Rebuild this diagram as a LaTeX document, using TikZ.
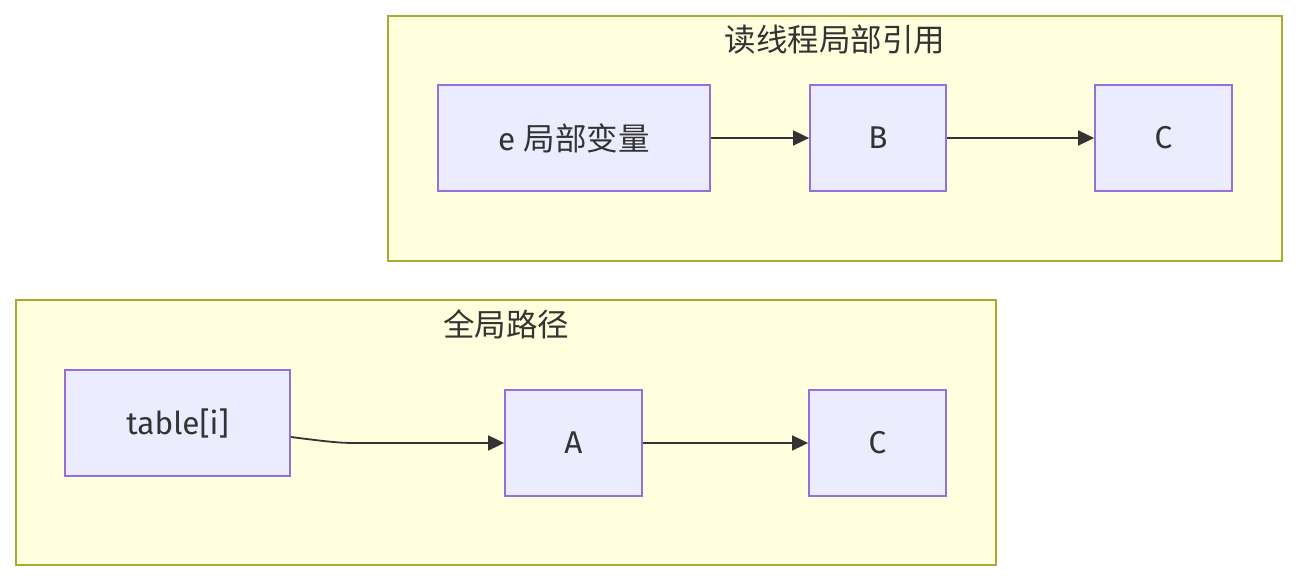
\documentclass[tikz,border=0pt]{standalone}
\usepackage{fontspec}
\setmainfont{Fira Sans}
\newfontfamily\cjk{Noto Sans CJK SC}
\usetikzlibrary{arrows.meta}
\definecolor{clfill}{HTML}{FFFFDE}
\definecolor{cldraw}{HTML}{AAAA33}
\definecolor{ndfill}{HTML}{ECECFF}
\definecolor{nddraw}{HTML}{9370DB}
\definecolor{txt}{HTML}{333333}
\tikzset{
  cluster/.style={draw=cldraw,fill=clfill,line width=1.8pt},
  nodebox/.style={draw=nddraw,fill=ndfill,line width=1.8pt,minimum height=106pt,inner sep=0pt,text=txt,font=\fontsize{31.5}{36}\selectfont},
  titletext/.style={text=txt,font=\fontsize{31.5}{36}\selectfont\cjk,inner sep=0pt},
  link/.style={draw=txt,line width=1.8pt,-{Triangle[length=16pt,width=15pt]}}
}
\begin{document}
\begin{tikzpicture}[x=1pt,y=-1pt]
\useasboundingbox (0,0) rectangle (1314,588);
\fill[white] (0,0) rectangle (1314,588);
% clusters
\draw[cluster] (388,16) rectangle (1282,261);
\node[titletext] (t1) at (835,40) {读线程局部引用};
\draw[cluster] (16,300) rectangle (996,565);
\node[titletext] (t2) at (506,324) {全局路径};
% top nodes
\node[nodebox,minimum width=272pt] (e) at (574,138) {e {\cjk 局部变量}};
\node[nodebox,minimum width=136pt] (B) at (878,138) {B};
\node[nodebox,minimum width=137pt] (C1) at (1163.5,138) {C};
% bottom nodes
\node[nodebox,minimum width=225pt] (T) at (177.5,423) {table[i]};
\node[nodebox,minimum width=137pt] (A) at (573.5,443) {A};
\node[nodebox,minimum width=137pt] (C2) at (877.5,443) {C};
% links
\draw[link] (e) -- (B);
\draw[link] (B) -- (C1);
\coordinate (ts) at ([yshift=-14pt]T.east);
\coordinate (tm) at (355,443);
\draw[link] (ts) .. controls (330,442) and (340,443) .. (tm) -- (A.west);
\draw[link] (A) -- (C2);
\end{tikzpicture}
\end{document}
